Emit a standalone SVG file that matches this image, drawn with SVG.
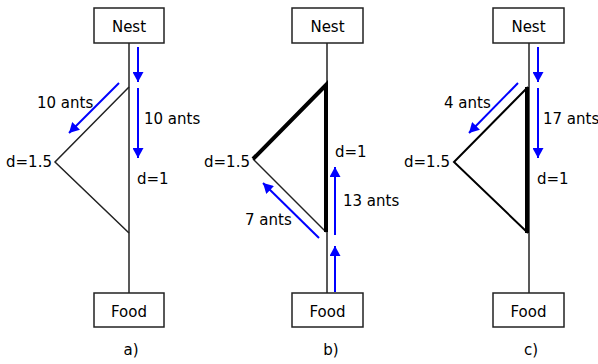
<svg xmlns="http://www.w3.org/2000/svg" width="598" height="364" viewBox="0 0 598 364">
<style>
text{font-family:"DejaVu Sans",Verdana,sans-serif;font-size:15px;fill:#000}
.c{text-anchor:middle}
.box{fill:#fff;stroke:#222;stroke-width:1.5}
.thin{stroke:#222;stroke-width:1.5;fill:none}
.edge{stroke:#000;stroke-width:2;fill:none}
.thick{stroke:#000;stroke-width:4;fill:none}
.ant{stroke:#0000ff;stroke-width:2;fill:none;marker-end:url(#ah)}
</style>
<defs>
<marker id="ah" markerUnits="userSpaceOnUse" markerWidth="11" markerHeight="11" refX="10" refY="5.5" orient="auto">
<path d="M0,0 L10,5.5 L0,11 z" fill="#0000ff"/>
</marker>
</defs>
<g id="connectors">
<!-- panel a -->
<line class="thin" x1="129" y1="43" x2="129" y2="293"/>
<polyline class="thin" points="129,87 55,162 129,233"/>
<!-- panel b -->
<line class="thin" x1="327" y1="43" x2="327" y2="293"/>
<line class="thin" x1="253" y1="159" x2="326" y2="232"/>
<polyline class="thick" points="253,159 326,85 326,232"/>
<!-- panel c -->
<line class="thin" x1="529" y1="43" x2="529" y2="293"/>
<polyline class="edge" points="528,87 454,162 528,233"/>
<line class="thick" x1="527" y1="87" x2="527" y2="233"/>
<!-- ant arrows -->
<line class="ant" x1="138" y1="47" x2="138" y2="82"/>
<line class="ant" x1="138" y1="88" x2="138" y2="158"/>
<line class="ant" x1="119" y1="83" x2="69" y2="133"/>
<line class="ant" x1="335" y1="292" x2="335" y2="246"/>
<line class="ant" x1="335" y1="235" x2="335" y2="167"/>
<line class="ant" x1="319" y1="238" x2="263" y2="183"/>
<line class="ant" x1="538" y1="47" x2="538" y2="82"/>
<line class="ant" x1="538" y1="88" x2="538" y2="158"/>
<line class="ant" x1="518" y1="83" x2="469" y2="133"/>
</g>
<g id="nest-a"><rect class="box" x="94" y="8" width="70" height="35"/><text class="c" x="129" y="32">Nest</text></g>
<g id="food-a"><rect class="box" x="94" y="293" width="70" height="34"/><text class="c" x="129" y="317">Food</text></g>
<g id="nest-b"><rect class="box" x="292" y="8" width="71" height="35"/><text class="c" x="327.5" y="32">Nest</text></g>
<g id="food-b"><rect class="box" x="292" y="293" width="71" height="34"/><text class="c" x="327.5" y="317">Food</text></g>
<g id="nest-c"><rect class="box" x="493" y="8" width="71" height="35"/><text class="c" x="528.5" y="32">Nest</text></g>
<g id="food-c"><rect class="box" x="493" y="293" width="71" height="34"/><text class="c" x="528.5" y="317">Food</text></g>
<g id="labels">
<text x="37" y="108">10 ants</text>
<text x="144" y="124">10 ants</text>
<text x="6" y="167">d=1.5</text>
<text x="137" y="184">d=1</text>
<text class="c" x="131" y="355">a)</text>
<text x="204" y="167">d=1.5</text>
<text x="335" y="157">d=1</text>
<text x="245" y="225">7 ants</text>
<text x="343" y="206">13 ants</text>
<text class="c" x="331" y="355">b)</text>
<text x="444" y="108">4 ants</text>
<text x="543" y="124">17 ants</text>
<text x="404" y="167">d=1.5</text>
<text x="537" y="184">d=1</text>
<text class="c" x="531" y="355">c)</text>
</g>
</svg>
